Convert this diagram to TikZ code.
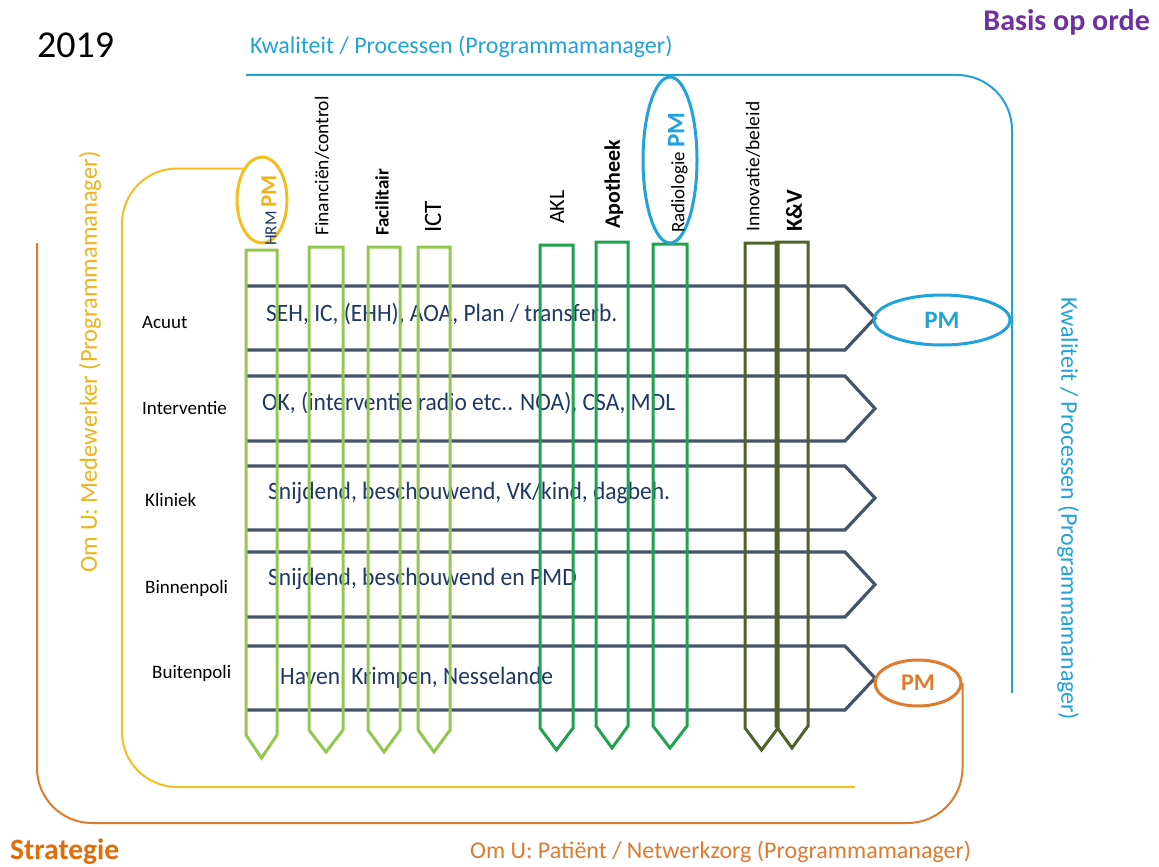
\documentclass[tikz,border=0pt]{standalone}
\usepackage{fontspec}
\setmainfont{Carlito}
\usetikzlibrary{shapes.geometric}
\definecolor{rowc}{HTML}{44546A}
\definecolor{rowtxt}{HTML}{1F3864}
\definecolor{lgreen}{HTML}{92C850}
\definecolor{dgreen}{HTML}{1FA34F}
\definecolor{olive}{HTML}{4F6228}
\definecolor{ylw}{HTML}{F2BE22}
\definecolor{ylwt}{HTML}{EDB41C}
\definecolor{orng}{HTML}{E07A2E}
\definecolor{orngt}{HTML}{E36C0A}
\definecolor{blu}{HTML}{20A2DA}
\definecolor{purp}{HTML}{7030A0}
\newcommand\myfs[1]{\fontsize{#1}{#1}\selectfont}
\newcommand\mycolbar[6]{\draw[colbar,draw=#6] (#1,#4) -- (#1,#3) -- (#2,#3) -- (#2,#4) -- ({(#1+#2)/2},#5) -- cycle;}
\begin{document}
\begin{tikzpicture}[x=1pt,y=-1pt,
  rowline/.style={draw=rowc, line width=3.2pt, line join=miter},
  colbar/.style={line width=3pt, line join=miter},
  bigloop/.style={line width=2pt, rounded corners=55pt},
  ell/.style={ellipse, draw, line width=3pt, inner sep=0pt},
  lbl/.style={inner sep=0pt, anchor=west},
  rowlbl/.style={inner sep=0pt, anchor=west, font=\myfs{19}},
  rowtext/.style={inner sep=0pt, anchor=west, text=rowtxt, font=\myfs{25}, xscale=0.94},
  collbl/.style={inner sep=0pt, anchor=west, rotate=90},
]
\useasboundingbox (0,0) rectangle (1159,867);
\fill[white] (0,0) rectangle (1159,867);

% rows
\foreach \t/\b in {286/350, 376/441, 466/530, 552/617, 646/710} {
  \draw[rowline] (246,\t) -- (845,\t) -- (875,{(\t+\b)/2}) -- (845,\b) -- (246,\b);
}
\node[rowlbl] (acuut) at (142,322) {Acuut};
\node[rowlbl] (interv) at (142,408) {Interventie};
\node[rowlbl] (kliniek) at (145,500) {Kliniek};
\node[rowlbl] (binnen) at (145,588) {Binnenpoli};
\node[rowlbl] (buiten) at (152,673) {Buitenpoli};

\node[rowtext] (t1) at (266,314) {SEH, IC, (EHH), AOA, Plan / transferb.};
\node[rowtext] (t2) at (262,403) {OK, (interventie radio etc.. NOA), CSA, MDL};
\node[rowtext] (t3) at (268,493) {Snijdend, beschouwend, VK/kind, dagbeh.};
\node[rowtext] (t4) at (268,579) {Snijdend, beschouwend en PMD};
\node[rowtext] (t5) at (280,678) {Haven, Krimpen, Nesselande};

% columns
\mycolbar{246}{277}{250}{735}{758}{lgreen}
\mycolbar{309}{343}{247}{730}{752}{lgreen}
\mycolbar{368}{400}{247}{730}{752}{lgreen}
\mycolbar{418}{450}{247}{730}{752}{lgreen}
\mycolbar{540}{573}{245}{728}{750}{dgreen}
\mycolbar{596}{628}{242}{726}{748}{dgreen}
\mycolbar{653}{687}{244}{726}{748}{dgreen}
\mycolbar{745}{778}{243}{728}{750}{olive}
\mycolbar{776}{808}{242}{726}{748}{olive}

% column labels
\node[collbl] (fin) at (322,236) {\myfs{19.5}Financiën/control};
\node[collbl] (fac) at (382,236) {\myfs{19}\bfseries Facilitair};
\node[collbl] (ict) at (433,233) {\myfs{25}ICT};
\node[collbl] (akl) at (557,224) {\myfs{22}AKL};
\node[collbl] (apo) at (614,229) {\myfs{22}\bfseries Apotheek};
\node[collbl] (inn) at (753,232) {\myfs{19.5}Innovatie/beleid};
\node[collbl] (kv) at (794,232) {\myfs{23}\bfseries K\&V};

% ellipses
\node[ell, draw=ylw, minimum width=50pt, minimum height=86pt] (hrm) at (262,200) {};
\node[collbl] (hrmt) at (269,246) {\myfs{17}\color{rowtxt}HRM \myfs{23}\bfseries\color{ylwt}PM};
\node[ell, draw=blu, minimum width=54pt, minimum height=166pt] (rad) at (670,160) {};
\node[collbl] (radt) at (678,233) {\myfs{19}Radiologie \myfs{25}\bfseries\color{blu}PM};
\node[ell, draw=blu, minimum width=136pt, minimum height=50pt] (pmb) at (942,320) {\myfs{25}\bfseries\color{blu}PM};
\node[ell, draw=orng, minimum width=86pt, minimum height=46pt] (pmo) at (918,683) {\myfs{24}\bfseries\color{orng}PM};

% loops
\coordinate (bstart) at (246,75);
\coordinate (bend) at (1012,693);
\draw[bigloop, draw=blu] (bstart) -| (bend);
\draw[bigloop, draw=ylw] (hrm.north west) -| (122,787) -- (855,787);
\coordinate (ostart) at (37,243);
\draw[bigloop, draw=orng] (ostart) -- (37,823) -| (pmo.east);

% titles
\node[lbl] (year) at (37,45) {\myfs{38}2019};
\node[lbl, text=blu] (kwtop) at (250,47) {\myfs{24}Kwaliteit / Processen (Programmamanager)};
\node[inner sep=0pt, anchor=east, text=purp] (basis) at (1150,22) {\myfs{30}\bfseries Basis op orde};
\node[inner sep=0pt, rotate=-90, text=blu] (kwright) at (1068,509) {\myfs{24}Kwaliteit / Processen (Programmamanager)};
\node[inner sep=0pt, rotate=90, text=ylwt] (med) at (90,362) {\myfs{24.5}Om U: Medewerker (Programmamanager)};
\node[lbl, text=orngt] (strat) at (10,852) {\myfs{29.5}\bfseries Strategie};
\node[lbl, text=orng] (pat) at (470,852) {\myfs{24}Om U: Patiënt / Netwerkzorg (Programmamanager)};
\end{tikzpicture}
\end{document}
